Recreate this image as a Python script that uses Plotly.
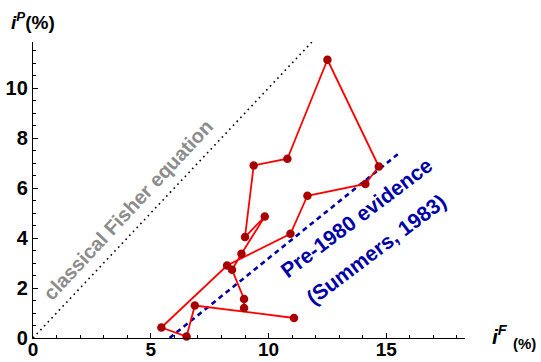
import plotly.graph_objects as go

# Observed path of (i^F, i^P) pairs, in drawing order
i_F = [8.96, 8.96, 8.45, 8.85, 9.84, 9.00, 9.37, 10.80, 12.50, 14.68,
       14.11, 11.65, 10.93, 8.24, 5.45, 6.52, 6.87, 11.08]
i_P = [1.20, 1.56, 2.73, 3.37, 4.86, 4.04, 6.90, 7.17, 11.13, 6.86,
       6.16, 5.69, 4.17, 2.90, 0.42, 0.06, 1.30, 0.80]

# Reference lines
fisher_x = [0.0, 11.9]
fisher_y = [0.0, 11.9]
summers_x = [5.8, 15.5]
summers_y = [0.0, 7.36]

x_ticks = [0, 5, 10, 15]
y_ticks = [0, 2, 4, 6, 8, 10]

FONT = "Liberation Sans, Arial, sans-serif"
RED_LINE = "#FF0000"
RED_DOT = "#A80000"
BLUE = "#0000A8"
GRAY = "#8C8C8C"

fig = go.Figure()

fig.add_trace(go.Scatter(
    x=fisher_x, y=fisher_y, mode="lines",
    line=dict(color="black", width=1.6, dash="1.6px,3.8px"),
    hoverinfo="skip", showlegend=False))

fig.add_trace(go.Scatter(
    x=summers_x, y=summers_y, mode="lines",
    line=dict(color=BLUE, width=2.6, dash="5px,4px"),
    hoverinfo="skip", showlegend=False))

fig.add_trace(go.Scatter(
    x=i_F, y=i_P, mode="lines+markers",
    line=dict(color=RED_LINE, width=1.8),
    marker=dict(color=RED_DOT, size=8.5, line=dict(width=0)),
    cliponaxis=False, showlegend=False))

axis_common = dict(
    showline=True, linecolor="black", linewidth=1.3,
    ticks="inside", ticklen=5, tickwidth=1, tickcolor="black",
    showgrid=False, zeroline=False, automargin=False,
)

fig.update_xaxes(
    range=[0, 18.34], tickmode="array", tickvals=x_ticks,
    ticktext=[str(v) for v in x_ticks], ticklabelstandoff=-6,
    tickfont=dict(family=FONT, size=19, color="black", weight="bold"),
    minor=dict(dtick=1, tick0=0, ticks="inside", ticklen=3,
               tickwidth=1, tickcolor="black"),
    **axis_common)

fig.update_yaxes(
    range=[0, 11.84], tickmode="array", tickvals=y_ticks,
    ticktext=[str(v) for v in y_ticks],
    tickfont=dict(family=FONT, size=20, color="black", weight="bold"),
    minor=dict(dtick=0.5, tick0=0, ticks="inside", ticklen=3,
               tickwidth=1, tickcolor="black"),
    **axis_common)

annotations = [
    # axis titles
    dict(text="<b><i>i</i><sup><i>P</i></sup>(%)</b>",
         xref="paper", yref="paper", x=-0.056, y=1.071,
         xanchor="left", yanchor="middle", showarrow=False,
         font=dict(family=FONT, size=19, color="black")),
    dict(text="<b><i>i</i><sup><i>F</i></sup></b>",
         xref="paper", yref="paper", x=1.058, y=0.01,
         xanchor="left", yanchor="middle", showarrow=False,
         font=dict(family=FONT, size=21, color="black")),
    dict(text="<b>(%)</b>",
         xref="paper", yref="paper", x=1.137, y=-0.017,
         xanchor="center", yanchor="middle", showarrow=False,
         font=dict(family=FONT, size=15, color="black")),
    # line labels
    dict(text="<b>classical Fisher equation</b>",
         x=4.02, y=5.13, textangle=-47, showarrow=False,
         font=dict(family=FONT, size=20, color=GRAY)),
    dict(text="<b>Pre-1980 evidence</b>",
         x=13.74, y=4.81, textangle=-37, showarrow=False,
         font=dict(family=FONT, size=21, color=BLUE)),
    dict(text="<b>(Summers, 1983)</b>",
         x=14.55, y=3.55, textangle=-37, showarrow=False,
         font=dict(family=FONT, size=21, color=BLUE)),
]

fig.update_layout(
    width=541, height=362,
    margin=dict(l=33, r=76, t=42, b=24),
    paper_bgcolor="white", plot_bgcolor="white",
    annotations=annotations,
    font=dict(family=FONT),
)

fig.write_html("out.html")
